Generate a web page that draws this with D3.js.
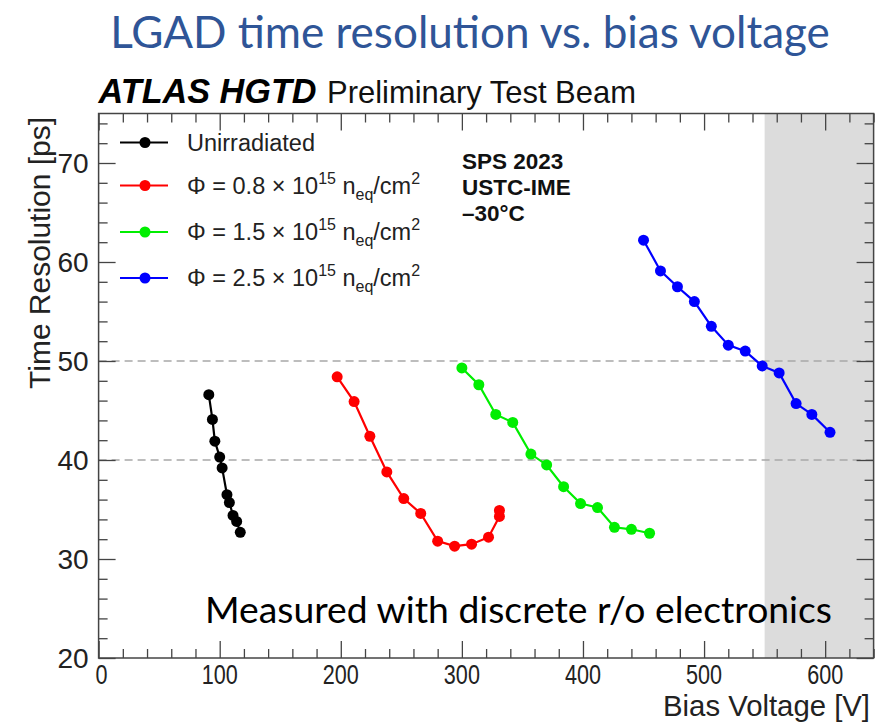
<!DOCTYPE html>
<html>
<head>
<meta charset="utf-8">
<script src="https://cdn.jsdelivr.net/npm/d3@7"></script>
<style>
  html, body { margin: 0; padding: 0; background: #fff; }
  svg { display: block; }
  text { font-family: "Liberation Sans", Arial, Helvetica, sans-serif; }
</style>
</head>
<body>
<svg id="chart" width="879" height="724"></svg>
<script>
// Bias voltage scans of LGAD time resolution (test beam, SPS 2023)
const unirrV = [91, 94, 96, 100, 102, 106, 108, 111, 114, 117];
const unirrT = [46.6, 44.1, 41.9, 40.3, 39.2, 36.5, 35.7, 34.4, 33.8, 32.7];

const phi08V = [197, 211, 224, 238, 252, 266, 280, 294, 308, 322, 331, 331];
const phi08T = [48.4, 45.9, 42.4, 38.8, 36.1, 34.6, 31.8, 31.3, 31.5, 32.2, 34.3, 34.9];

const phi15V = [300, 314, 328, 342, 357, 370, 384, 398, 412, 426, 440, 455];
const phi15T = [49.3, 47.6, 44.6, 43.8, 40.6, 39.5, 37.3, 35.6, 35.2, 33.2, 33.0, 32.6];

const phi25V = [450, 464, 478, 492, 506, 520, 534, 548, 562, 576, 589, 604];
const phi25T = [62.2, 59.1, 57.5, 56.0, 53.5, 51.6, 51.0, 49.5, 48.8, 45.7, 44.6, 42.8];

const seriesColors = ["#000000", "#ff0000", "#00ee00", "#0000ff"];
const fluences = [null, "0.8", "1.5", "2.5"];

const xTicks = [0, 100, 200, 300, 400, 500, 600];
const yTicks = [20, 30, 40, 50, 60, 70];
const gridLevels = [40, 50];
const shadedRange = [550, 640];

const xDomain = [0, 640];
const yDomain = [20, 75];

const svg = d3.select("#chart");
const W = 879, H = 724;
const plot = { left: 98.6, right: 873.6, top: 113.5, bottom: 658 };

const x = d3.scaleLinear().domain(xDomain).range([plot.left, plot.right]);
const y = d3.scaleLinear().domain(yDomain).range([plot.bottom, plot.top]);

svg.append("rect").attr("width", W).attr("height", H).attr("fill", "#fff");

// shrink/grow a text element's font so it spans the given width
function fitWidth(sel, width) {
  const node = sel.node();
  const fs = parseFloat(sel.attr("font-size"));
  const len = node.getComputedTextLength();
  sel.attr("font-size", (fs * width / len).toFixed(2));
}

// Slide title
const title = svg.append("text")
  .attr("x", 470).attr("y", 48)
  .attr("text-anchor", "middle")
  .attr("font-size", 40)
  .style("font-family", "Lato, 'Open Sans', sans-serif")
  .attr("fill", "#2f5597")
  .text("LGAD time resolution vs. bias voltage");
fitWidth(title, 720);

// Shaded voltage region
svg.append("rect")
  .attr("x", x(shadedRange[0])).attr("y", plot.top)
  .attr("width", x(shadedRange[1]) - x(shadedRange[0]))
  .attr("height", plot.bottom - plot.top)
  .attr("fill", "#dcdcdc");

// Dashed reference levels
svg.append("g").selectAll("line").data(gridLevels).join("line")
  .attr("x1", plot.left).attr("x2", plot.right)
  .attr("y1", d => y(d)).attr("y2", d => y(d))
  .attr("stroke", "#a8a8a8").attr("stroke-width", 1.6)
  .attr("stroke-dasharray", "8,5");

// Axes with ROOT-style inward ticks on all four sides
const majorLen = 17, minorLen = 9;
const xMinor = d3.range(xDomain[0], xDomain[1] + 0.1, 20).filter(v => v % 100 !== 0);
const yMinor = d3.range(yDomain[0], yDomain[1] + 0.1, 2).filter(v => v % 10 !== 0);
const axisColor = "#444";

function styleAxis(g) {
  g.select(".domain").remove();
  g.selectAll(".tick line").attr("stroke", axisColor).attr("stroke-width", 1.3);
  g.selectAll(".tick text").remove();
}

svg.append("g").attr("transform", `translate(0,${plot.bottom})`)
  .call(d3.axisTop(x).tickValues(xTicks).tickSize(majorLen)).call(styleAxis);
svg.append("g").attr("transform", `translate(0,${plot.bottom})`)
  .call(d3.axisTop(x).tickValues(xMinor).tickSize(minorLen)).call(styleAxis);
svg.append("g").attr("transform", `translate(0,${plot.top})`)
  .call(d3.axisBottom(x).tickValues(xTicks).tickSize(majorLen)).call(styleAxis);
svg.append("g").attr("transform", `translate(0,${plot.top})`)
  .call(d3.axisBottom(x).tickValues(xMinor).tickSize(minorLen)).call(styleAxis);
svg.append("g").attr("transform", `translate(${plot.left},0)`)
  .call(d3.axisRight(y).tickValues(yTicks).tickSize(majorLen)).call(styleAxis);
svg.append("g").attr("transform", `translate(${plot.left},0)`)
  .call(d3.axisRight(y).tickValues(yMinor).tickSize(minorLen)).call(styleAxis);
svg.append("g").attr("transform", `translate(${plot.right},0)`)
  .call(d3.axisLeft(y).tickValues(yTicks).tickSize(majorLen)).call(styleAxis);
svg.append("g").attr("transform", `translate(${plot.right},0)`)
  .call(d3.axisLeft(y).tickValues(yMinor).tickSize(minorLen)).call(styleAxis);

// Frame
svg.append("rect")
  .attr("x", plot.left).attr("y", plot.top)
  .attr("width", plot.right - plot.left).attr("height", plot.bottom - plot.top)
  .attr("fill", "none").attr("stroke", axisColor).attr("stroke-width", 1.5);

// Tick labels
svg.append("g").selectAll("text").data(xTicks).join("text")
  .attr("transform", d => `translate(${x(d) + (d === 0 ? 3 : 0)},${plot.bottom + 26}) scale(0.8,1)`)
  .attr("text-anchor", "middle")
  .attr("font-size", 27)
  .attr("fill", "#222")
  .text(d => d);

svg.append("g").selectAll("text").data(yTicks).join("text")
  .attr("x", plot.left - 10).attr("y", d => y(d) + 10)
  .attr("text-anchor", "end")
  .attr("font-size", 28)
  .attr("fill", "#222")
  .text(d => d);

// Axis titles
const xTitle = svg.append("text")
  .attr("x", 870).attr("y", 716)
  .attr("text-anchor", "end")
  .attr("font-size", 28)
  .attr("fill", "#222")
  .text("Bias Voltage [V]");
fitWidth(xTitle, 207);

const yTitle = svg.append("text")
  .attr("transform", "translate(50,117) rotate(-90)")
  .attr("text-anchor", "end")
  .attr("font-size", 29)
  .attr("fill", "#222")
  .text("Time Resolution [ps]");
fitWidth(yTitle, 272);

// Experiment label
const atlas = svg.append("text")
  .attr("x", plot.left).attr("y", 103)
  .attr("font-size", 30)
  .attr("font-weight", "bold").attr("font-style", "italic")
  .attr("fill", "#000")
  .text("ATLAS HGTD");
fitWidth(atlas, 218);
const prelim = svg.append("text")
  .attr("x", 327).attr("y", 103)
  .attr("font-size", 30)
  .attr("fill", "#111")
  .text("Preliminary Test Beam");
fitWidth(prelim, 309);

// Measurement conditions
const cond = ["SPS 2023", "USTC-IME", "\u201330\u00B0C"];
svg.append("g").selectAll("text").data(cond).join("text")
  .attr("x", 462).attr("y", (d, i) => 169 + i * 26)
  .attr("font-size", 22.5)
  .attr("font-weight", "bold")
  .attr("fill", "#111")
  .text(d => d);

// Data series
const series = [
  { v: unirrV, t: unirrT },
  { v: phi08V, t: phi08T },
  { v: phi15V, t: phi15T },
  { v: phi25V, t: phi25T }
];

const line = d3.line().x(d => x(d[0])).y(d => y(d[1]));

series.forEach((s, i) => {
  const pts = s.v.map((v, k) => [v, s.t[k]]);
  const g = svg.append("g");
  g.append("path").datum(pts)
    .attr("d", line)
    .attr("fill", "none")
    .attr("stroke", seriesColors[i])
    .attr("stroke-width", 2.2);
  g.selectAll("circle").data(pts).join("circle")
    .attr("cx", d => x(d[0])).attr("cy", d => y(d[1]))
    .attr("r", 5.5)
    .attr("fill", seriesColors[i]);
});

// Legend
const legendRows = [142.5, 185.5, 232, 278];
const lg = svg.append("g");
legendRows.forEach((ry, i) => {
  lg.append("line")
    .attr("x1", 120).attr("x2", 168).attr("y1", ry).attr("y2", ry)
    .attr("stroke", seriesColors[i]).attr("stroke-width", 2.2);
  lg.append("circle").attr("cx", 145).attr("cy", ry).attr("r", 5.5).attr("fill", seriesColors[i]);
  const t = lg.append("text")
    .attr("x", 187).attr("y", ry + 8)
    .attr("font-size", 23.5)
    .attr("fill", "#222");
  if (fluences[i] === null) {
    t.text("Unirradiated");
  } else {
    t.append("tspan").text(`\u03A6 = ${fluences[i]} \u00D7 10`);
    t.append("tspan").attr("font-size", 16).attr("dy", -10).text("15");
    t.append("tspan").attr("dy", 10).text(" n");
    t.append("tspan").attr("font-size", 16).attr("dy", 6).text("eq");
    t.append("tspan").attr("dy", -6).text("/cm");
    t.append("tspan").attr("font-size", 16).attr("dy", -10).text("2");
  }
});

// Readout note
const note = svg.append("text")
  .attr("x", 205).attr("y", 623)
  .attr("font-size", 33)
  .style("font-family", "Lato, 'Open Sans', sans-serif")
  .attr("fill", "#000")
  .text("Measured with discrete r/o electronics");
fitWidth(note, 627);
</script>
</body>
</html>
